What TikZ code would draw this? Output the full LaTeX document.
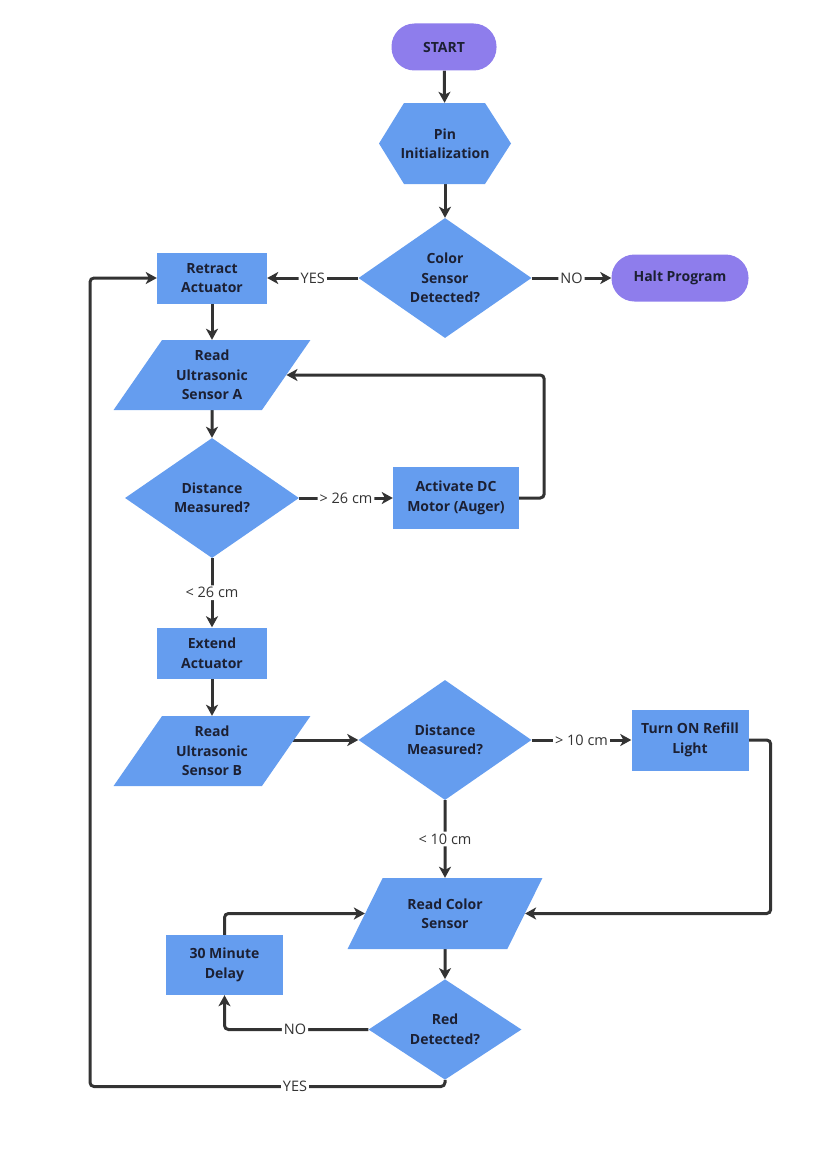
\documentclass[tikz,border=0pt]{standalone}
\usepackage{fontspec}
\setmainfont{Open Sans}
\usetikzlibrary{shapes.geometric,arrows.meta,backgrounds}
\definecolor{boxblue}{HTML}{659DEF}
\definecolor{pillpurple}{HTML}{8E7DEC}
\definecolor{ink}{HTML}{1C2033}
\definecolor{wire}{HTML}{333333}
\begin{document}
\begin{tikzpicture}[x=1pt,y=-1pt,
  base/.style={fill=boxblue, draw=none, text=ink, font=\bfseries\fontsize{14}{19.5}\selectfont, align=center, inner sep=0pt},
  procbox/.style={base, rectangle},
  pill/.style={base, fill=pillpurple, rectangle, rounded corners=23pt},
  decision/.style={base, diamond},
  iobox/.style={base, trapezium, trapezium left angle=55, trapezium right angle=125, trapezium stretches=true},
  arr/.style={draw=wire, line width=3pt, rounded corners=4pt, -{Stealth[length=11pt,width=12pt,inset=3pt]}},
  lbl/.style={fill=white, text=wire, font=\fontsize{14.5}{16}\selectfont, inner sep=2pt}
]
\useasboundingbox (0,0) rectangle (839,1164);

% hexagon body
\fill[boxblue] (379,143.5) -- (404,103) -- (485,103) -- (511,143.5) -- (485,184) -- (404,184) -- cycle;

\node[pill, minimum width=105, minimum height=47] (start) at (444,47) {START};
\node[base, fill=none, minimum width=132, minimum height=81] (pin) at (445,143.5) {Pin\\Initialization};
\node[decision, minimum width=173, minimum height=120] (cs) at (445,278) {Color\\Sensor\\Detected?};
\node[pill, minimum width=137, minimum height=47] (halt) at (680,278) {Halt Program};
\node[procbox, minimum width=110, minimum height=51] (ret) at (212,278) {Retract\\Actuator};
\node[iobox, minimum width=197, minimum height=70] (usa) at (212,375) {Read\\Ultrasonic\\Sensor A};
\node[decision, minimum width=174, minimum height=120] (dm1) at (212,498) {Distance\\Measured?};
\node[procbox, minimum width=126, minimum height=62] (motor) at (456,498) {Activate DC\\Motor (Auger)};
\node[procbox, minimum width=110, minimum height=51] (ext) at (212,653) {Extend\\Actuator};
\node[iobox, minimum width=197, minimum height=70] (usb) at (212,751) {Read\\Ultrasonic\\Sensor B};
\node[decision, minimum width=173, minimum height=120] (dm2) at (445,740) {Distance\\Measured?};
\node[procbox, minimum width=117, minimum height=61] (refill) at (690,740) {Turn ON Refill\\Light};
\node[iobox, minimum width=195, minimum height=71] (rcs) at (445,913.5) {Read Color\\Sensor};
\node[procbox, minimum width=117, minimum height=60] (delay) at (224.5,965) {30 Minute\\Delay};
\node[decision, minimum width=153, minimum height=95] (red) at (445,1029.5) {Red\\Detected?};
\coordinate (loopL) at (90,1086.5);

\begin{pgfonlayer}{background}
\draw[arr] (start) -- (pin);
\draw[arr] (pin) -- (cs);
\draw[arr] (cs) -- node[lbl]{YES} (ret);
\draw[arr] (cs) -- node[lbl]{NO} (halt);
\draw[arr] (ret) -- (usa);
\draw[arr] (usa) -- (dm1);
\draw[arr] (dm1) -- node[lbl]{> 26 cm} (motor);
\draw[arr] (motor.east) -- ++(25,0) |- (usa.east);
\draw[arr] (dm1) -- node[lbl]{< 26 cm} (ext);
\draw[arr] (ext) -- (usb);
\draw[arr] (usb.east |- dm2.west) -- (dm2.west);
\draw[arr] (dm2) -- node[lbl]{> 10 cm} (refill);
\draw[arr] (refill.east) -- ++(22,0) |- (rcs.east);
\draw[arr] (dm2) -- node[lbl]{< 10 cm} (rcs);
\draw[arr] (rcs) -- (red);
\draw[arr] (red.west) -| node[lbl, pos=0.255]{NO} (delay.south);
\draw[arr] (delay.north) |- (rcs.west);
\draw[arr] (red.south) |- (loopL) |- (ret.west);
\end{pgfonlayer}
\node[lbl] (yeslbl) at (295,1086.5) {YES};
\end{tikzpicture}
\end{document}
